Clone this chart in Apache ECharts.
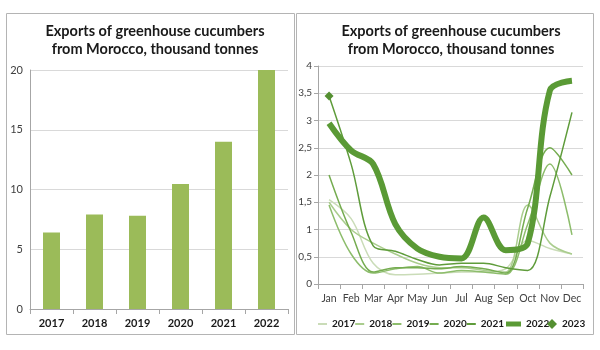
<!DOCTYPE html>
<html>
<head>
<meta charset="utf-8">
<script src="https://cdn.jsdelivr.net/npm/echarts@6/dist/echarts.min.js"></script>
<style>html,body{margin:0;padding:0;background:#fff}#c{width:600px;height:350px}</style>
</head>
<body>
<div id="c"></div>
<script>
var titleText = 'Exports of greenhouse cucumbers\nfrom Morocco, thousand tonnes';
var years = ['2017', '2018', '2019', '2020', '2021', '2022'];
var annualExports = [6.4, 7.9, 7.8, 10.45, 14.0, 20.05];
var months = ['Jan', 'Feb', 'Mar', 'Apr', 'May', 'Jun', 'Jul', 'Aug', 'Sep', 'Oct', 'Nov', 'Dec'];
var m2017 = [1.55, 1.2, 0.38, 0.17, 0.18, 0.2, 0.22, 0.22, 0.28, 0.8, 0.65, 0.55];
var m2018 = [1.5, 1.0, 0.75, 0.55, 0.38, 0.3, 0.3, 0.25, 0.22, 1.45, 0.75, 0.55];
var m2019 = [1.45, 0.55, 0.2, 0.28, 0.32, 0.2, 0.25, 0.22, 0.18, 1.1, 2.2, 0.9];
var m2020 = [2.0, 0.95, 0.22, 0.3, 0.3, 0.28, 0.32, 0.28, 0.2, 1.4, 2.5, 2.0];
var m2021 = [3.45, 2.2, 0.7, 0.6, 0.45, 0.35, 0.38, 0.38, 0.3, 0.25, 1.6, 3.15];
var m2022 = [2.95, 2.45, 2.2, 1.1, 0.65, 0.5, 0.47, 1.22, 0.62, 0.75, 3.55, 3.73];
var m2023 = [3.45];
var yTicksRight = ['0', '0,5', '1', '1,5', '2', '2,5', '3', '3,5', '4'];

var font = 'Lato';
var chart = echarts.init(document.getElementById('c'));
function lineSeries(name, data, color, width) {
  return {
    name: name, type: 'line', xAxisIndex: 1, yAxisIndex: 1, data: data,
    smooth: 0.35, symbol: 'none', color: color,
    lineStyle: {color: color, width: width}
  };
}
var legendText = {fontFamily: font, fontWeight: 'bold', fontSize: 10, color: '#1a1a1a'};
var option = {
  animation: false,
  textStyle: {fontFamily: font},
  graphic: [
    {type: 'rect', shape: {x: 6.5, y: 13.5, width: 288, height: 321}, style: {fill: 'none', stroke: '#b4b4b4', lineWidth: 1}, z: -1},
    {type: 'rect', shape: {x: 296.5, y: 13.5, width: 297, height: 321}, style: {fill: 'none', stroke: '#b4b4b4', lineWidth: 1}, z: -1}
  ],
  title: [
    {text: titleText, left: 150, top: 17, textAlign: 'center',
     textStyle: {fontFamily: font, fontWeight: 'bold', fontSize: 14.5, lineHeight: 18, color: '#1a1a1a'}},
    {text: titleText, left: 446, top: 17, textAlign: 'center',
     textStyle: {fontFamily: font, fontWeight: 'bold', fontSize: 14.5, lineHeight: 18, color: '#1a1a1a'}}
  ],
  legend: [
    {left: 313, top: 314, itemGap: 0, itemWidth: 9, itemHeight: 2, icon: 'rect',
     textStyle: legendText, data: ['2017', '2018', '2019', '2020', '2021']},
    {left: 501, top: 314, itemGap: 0, itemWidth: 15, itemHeight: 5, icon: 'rect',
     textStyle: legendText, data: ['2022']},
    {left: 542, top: 314, itemGap: 0, itemWidth: 10, itemHeight: 10, icon: 'diamond',
     textStyle: legendText, data: ['2023']}
  ],
  grid: [
    {left: 30, right: 312, top: 70, bottom: 41},
    {left: 318, right: 17, top: 66, bottom: 66}
  ],
  xAxis: [
    {type: 'category', gridIndex: 0, data: years,
     axisLine: {lineStyle: {color: '#a6a6a6'}},
     axisTick: {show: true, length: 5, lineStyle: {color: '#a6a6a6'}},
     axisLabel: {fontFamily: font, fontWeight: 'bold', fontSize: 11, color: '#1a1a1a', margin: 9}},
    {type: 'category', gridIndex: 1, data: months,
     axisLine: {lineStyle: {color: '#a6a6a6'}},
     axisTick: {show: true, length: 5, interval: 0, lineStyle: {color: '#a6a6a6'}},
     axisLabel: {fontFamily: font, fontSize: 10.5, color: '#404040', margin: 9, interval: 0}}
  ],
  yAxis: [
    {type: 'value', gridIndex: 0, min: 0, max: 20, interval: 5,
     axisLine: {show: true, lineStyle: {color: '#a6a6a6'}},
     axisTick: {show: false},
     splitLine: {lineStyle: {color: '#d9d9d9'}},
     axisLabel: {fontFamily: font, fontSize: 11, color: '#404040', margin: 7}},
    {type: 'value', gridIndex: 1, min: 0, max: 4, interval: 0.5,
     axisLine: {show: true, lineStyle: {color: '#a6a6a6'}},
     axisTick: {show: true, length: 4, lineStyle: {color: '#a6a6a6'}},
     splitLine: {lineStyle: {color: '#d9d9d9'}},
     axisLabel: {fontFamily: font, fontSize: 10, color: '#404040', margin: 6,
       formatter: function (v) { return yTicksRight[Math.round(v * 2)]; }}}
  ],
  series: [
    {name: 'Exports', type: 'bar', xAxisIndex: 0, yAxisIndex: 0, data: annualExports,
     barWidth: 17, itemStyle: {color: '#9bbb59'}},
    lineSeries('2017', m2017, '#cadcb8', 1.5),
    lineSeries('2018', m2018, '#aacd8e', 1.5),
    lineSeries('2019', m2019, '#8dbd6c', 1.5),
    lineSeries('2020', m2020, '#75ac50', 1.5),
    lineSeries('2021', m2021, '#5f9c3b', 1.5),
    lineSeries('2022', m2022, '#5a9a35', 6),
    {name: '2023', type: 'line', xAxisIndex: 1, yAxisIndex: 1, data: m2023,
     symbol: 'diamond', symbolSize: 9, showSymbol: true, color: '#548f31',
     itemStyle: {color: '#548f31'}, lineStyle: {width: 0}}
  ]
};
chart.setOption(option);
</script>
</body>
</html>
